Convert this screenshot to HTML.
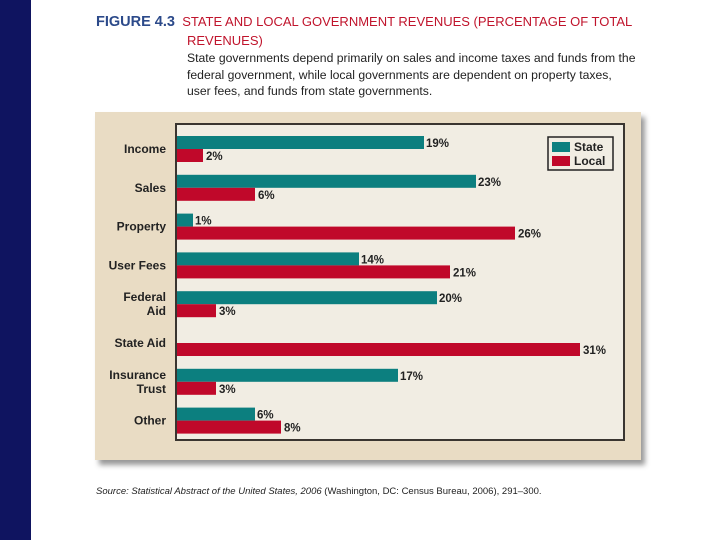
<!DOCTYPE html>
<html><head><meta charset="utf-8"><style>
body{margin:0;width:720px;height:540px;background:#fff;position:relative;overflow:hidden;font-family:"Liberation Sans",sans-serif}
.t{position:absolute;white-space:nowrap}
</style></head><body>
<div style="position:absolute;left:0;top:0;width:31px;height:540px;background:#0f1460"></div>
<div class="t" style="left:96px;top:14px;font-size:13px;color:#c0142c"><b style="color:#2c4a8a;font-size:14.5px">FIGURE 4.3</b>&nbsp; STATE AND LOCAL GOVERNMENT REVENUES (PERCENTAGE OF TOTAL</div>
<div class="t" style="left:187px;top:33px;font-size:13px;color:#c0142c">REVENUES)</div>
<div class="t" style="left:187px;top:50px;font-size:12.2px;line-height:16.5px;color:#222">State governments depend primarily on sales and income taxes and funds from the<br>federal government, while local governments are dependent on property taxes,<br>user fees, and funds from state governments.</div>
<div style="position:absolute;left:95px;top:112px;width:546px;height:348px;background:#e9dcc4;box-shadow:4px 5px 5px #999"></div>
<svg id="c" width="720" height="540" style="position:absolute;left:0;top:0"></svg>
<div class="t" style="left:96px;top:486px;font-size:9.5px;color:#222"><i>Source: Statistical Abstract of the United States, 2006</i> (Washington, DC: Census Bureau, 2006), 291–300.</div>
<script>
const categories=[["Income"],["Sales"],["Property"],["User Fees"],["Federal","Aid"],["State Aid"],["Insurance","Trust"],["Other"]];
const stateVals=[19,23,1,14,20,0,17,6];
const localVals=[2,6,26,21,3,31,3,8];
const NS="http://www.w3.org/2000/svg";
const svg=document.getElementById('c');
function mk(t,a){const e=document.createElementNS(NS,t);for(const k in a)e.setAttribute(k,a[k]);svg.appendChild(e);return e;}
const x0=177,ppu=13.0,g0=143,gap=38.8;
const xs=v=>x0+v*ppu;
const plot=mk('rect',{x:176,y:124,width:448,height:316,fill:'#f1ede3',stroke:'#3a3530','stroke-width':2});

categories.forEach((c,i)=>{
 const cy=g0+i*gap;
 const lines=c.length;
 c.forEach((ln,j)=>{const t=mk('text',{x:166,y:cy+10-(lines-1)*7+j*14,'text-anchor':'end','font-size':12,fill:'#222','font-weight':'bold'});t.textContent=ln;
 });
 if(stateVals[i]>0){
  const r=mk('rect',{x:x0,y:cy-7,width:Math.max(xs(stateVals[i])-x0,16),height:13,fill:'#0c7f7f'});
  
  const l=mk('text',{x:Math.max(xs(stateVals[i]),x0+16)+2,y:cy+4,'font-size':11.5,'font-weight':'bold',fill:'#222'});l.textContent=stateVals[i]+'%';
  
 }
 const r2=mk('rect',{x:x0,y:cy+6,width:xs(localVals[i])-x0,height:13,fill:'#c0082a'});
 
 const l2=mk('text',{x:xs(localVals[i])+3,y:cy+17,'font-size':11.5,'font-weight':'bold',fill:'#222'});l2.textContent=localVals[i]+'%';
 
});
const lg=mk('rect',{x:548,y:137,width:65,height:33,fill:'#f1ede3',stroke:'#222','stroke-width':1.5});

[['State','#0c7f7f'],['Local','#c0082a']].forEach((d,i)=>{
 const s=mk('rect',{x:552,y:142+i*14,width:18,height:10,fill:d[1]});
 
 const t=mk('text',{x:574,y:151+i*14,'font-size':12,'font-weight':'bold',fill:'#222'});t.textContent=d[0];
 
});
</script>
</body></html>
